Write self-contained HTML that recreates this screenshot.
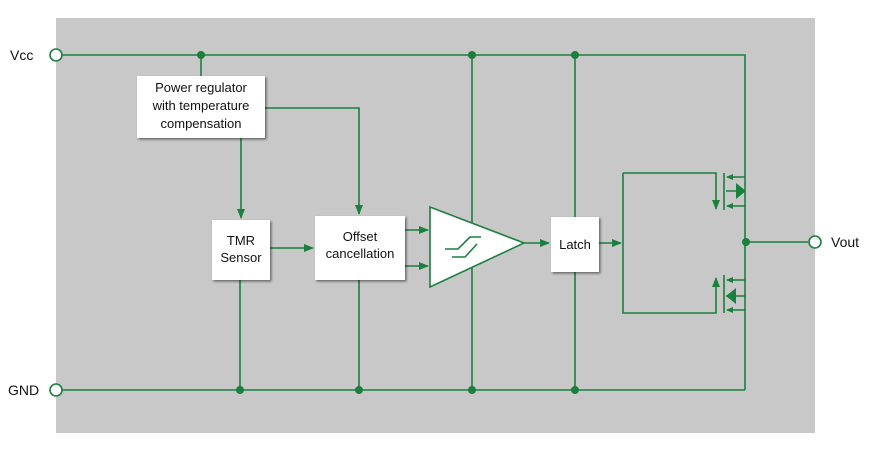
<!DOCTYPE html>
<html><head><style>body{margin:0;background:#fff}svg{display:block}text{font-family:"Liberation Sans",sans-serif;fill:#111}</style></head>
<body>
<svg width="875" height="455" viewBox="0 0 875 455" xmlns="http://www.w3.org/2000/svg">
<defs>
<marker id="a" markerWidth="10" markerHeight="8" refX="9" refY="4" orient="auto" markerUnits="userSpaceOnUse"><path d="M0,0 L10,4 L0,8 Z" fill="#1b7f3e"/></marker>
<marker id="s" markerWidth="7" markerHeight="6" refX="6" refY="3" orient="auto" markerUnits="userSpaceOnUse"><path d="M0,0 L7,3 L0,6 Z" fill="#1b7f3e"/></marker>
<filter id="sh"><feDropShadow dx="1.5" dy="1.5" stdDeviation="1.2" flood-opacity="0.5"/></filter>
</defs>
<rect x="56" y="18" width="759" height="415" fill="#c8c8c9"/>
<g stroke="#1b7f3e" stroke-width="1.6" fill="none">
<path d="M62,55 H745 V177 M745,206 V390 M62,390 H745"/>
<path d="M745,177 L745,206"/>
<path d="M201,55 V76"/>
<path d="M241,138 V218" marker-end="url(#a)"/>
<path d="M265,108 H359 V214" marker-end="url(#a)"/>
<path d="M240,280 V390 M359,280 V390 M472,55 V390 M575,55 V390"/>
<path d="M270,248 H313" marker-end="url(#a)"/>
<path d="M405,230 H428" marker-end="url(#a)"/>
<path d="M405,266 H428" marker-end="url(#a)"/>
<path d="M524,243 H549" marker-end="url(#a)"/>
<path d="M599,243 H621" marker-end="url(#a)"/>
<path d="M623,173 H716 V209" marker-end="url(#a)"/>
<path d="M623,173 V313 H716 V278" marker-end="url(#a)"/>
<path d="M724,173 V210 M724,275 V313"/>
<path d="M745,177 H727" marker-end="url(#s)"/>
<path d="M745,206 H727" marker-end="url(#s)"/>
<path d="M745,280 H727" marker-end="url(#s)"/>
<path d="M745,310 H727" marker-end="url(#s)"/>
<path d="M726,191 H745 M726,296 H745"/>
<path d="M746,242 H808"/>
</g>
<path d="M736,183 L746,191 L736,199 Z" fill="#1b7f3e"/>
<path d="M736,288 L726,296 L736,304 Z" fill="#1b7f3e"/>
<g fill="#1b7f3e">
<circle cx="201" cy="55" r="4"/><circle cx="472" cy="55" r="4"/><circle cx="575" cy="55" r="4"/>
<circle cx="240" cy="390" r="4"/><circle cx="359" cy="390" r="4"/><circle cx="472" cy="390" r="4"/><circle cx="575" cy="390" r="4"/>
<circle cx="746" cy="242" r="4"/>
</g>
<g fill="#fff" stroke="#1b7f3e" stroke-width="1.6">
<circle cx="56" cy="55" r="6"/><circle cx="56" cy="390" r="6"/><circle cx="815" cy="242" r="6"/>
</g>
<g fill="#fff" filter="url(#sh)">
<rect x="137" y="76" width="128" height="62"/>
<rect x="212" y="220" width="58" height="60"/>
<rect x="315" y="216" width="90" height="64"/>
<rect x="551" y="217" width="48" height="55"/>
</g>
<path d="M430,207 L430,287 L524,243 Z" fill="#fff" stroke="#1b7f3e" stroke-width="1.6"/>
<path d="M445,249 L458,249 L470,237 L481,237 M452,257 L465,257 L477,244" stroke="#1b7f3e" stroke-width="1.6" fill="none"/>
<g font-size="13" text-anchor="middle">
<text x="201" y="92">Power regulator</text>
<text x="201" y="110">with temperature</text>
<text x="201" y="128">compensation</text>
<text x="241" y="245">TMR</text>
<text x="241" y="262">Sensor</text>
<text x="360" y="241">Offset</text>
<text x="360" y="258">cancellation</text>
<text x="575" y="249">Latch</text>
</g>
<g font-size="14">
<text x="10" y="60">Vcc</text>
<text x="8" y="395">GND</text>
<text x="831" y="247">Vout</text>
</g>
</svg>
</body></html>
